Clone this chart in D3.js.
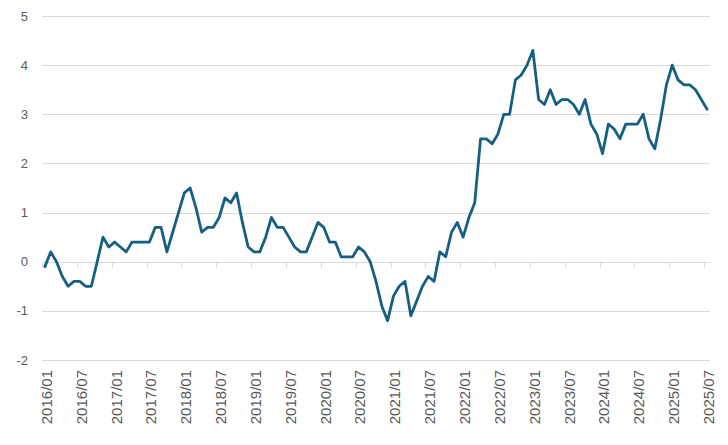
<!DOCTYPE html>
<html>
<head>
<meta charset="utf-8">
<script src="https://cdn.jsdelivr.net/npm/d3@7"></script>
<style>
  html, body { margin: 0; padding: 0; background: #fff; }
  svg { display: block; }
  text { font-family: "Liberation Sans", Arial, sans-serif; fill: #595959; }
</style>
</head>
<body>
<div id="chart"></div>
<script>
// Monthly values, 2016/01 .. 2025/07
const values = [
  -0.1, 0.2, 0.0, -0.3, -0.5, -0.4, -0.4, -0.5, -0.5, 0.0, 0.5, 0.3,
  0.4, 0.3, 0.2, 0.4, 0.4, 0.4, 0.4, 0.7, 0.7, 0.2, 0.6, 1.0,
  1.4, 1.5, 1.1, 0.6, 0.7, 0.7, 0.9, 1.3, 1.2, 1.4, 0.8, 0.3,
  0.2, 0.2, 0.5, 0.9, 0.7, 0.7, 0.5, 0.3, 0.2, 0.2, 0.5, 0.8,
  0.7, 0.4, 0.4, 0.1, 0.1, 0.1, 0.3, 0.2, 0.0, -0.4, -0.9, -1.2,
  -0.7, -0.5, -0.4, -1.1, -0.8, -0.5, -0.3, -0.4, 0.2, 0.1, 0.6, 0.8,
  0.5, 0.9, 1.2, 2.5, 2.5, 2.4, 2.6, 3.0, 3.0, 3.7, 3.8, 4.0,
  4.3, 3.3, 3.2, 3.5, 3.2, 3.3, 3.3, 3.2, 3.0, 3.3, 2.8, 2.6,
  2.2, 2.8, 2.7, 2.5, 2.8, 2.8, 2.8, 3.0, 2.5, 2.3, 2.9, 3.6,
  4.0, 3.7, 3.6, 3.6, 3.5, 3.3, 3.1
];
const startYear = 2016;
const categories = values.map((_, i) => {
  const y = startYear + Math.floor(i / 12);
  const m = (i % 12) + 1;
  return y + "/" + String(m).padStart(2, "0");
});
const yTicks = [-2, -1, 0, 1, 2, 3, 4, 5];
const labelEvery = 6;

const W = 728, H = 445;
const margin = { left: 42, right: 18, top: 16, bottom: 85 };

const svg = d3.select("#chart").append("svg").attr("width", W).attr("height", H);

const x = d3.scaleBand().domain(categories).range([margin.left, W - margin.right]).paddingInner(0).paddingOuter(0);
const y = d3.scaleLinear().domain([-2, 5]).range([H - margin.bottom, margin.top]);

// Gridlines
svg.append("g").selectAll("line").data(yTicks).join("line")
  .attr("x1", margin.left).attr("x2", W - margin.right)
  .attr("y1", d => Math.round(y(d)) + 0.5).attr("y2", d => Math.round(y(d)) + 0.5)
  .attr("stroke", "#d9d9d9").attr("stroke-width", 1);

// Y labels
svg.append("g").selectAll("text").data(yTicks).join("text")
  .attr("x", 28).attr("y", d => y(d)).attr("dy", "0.35em")
  .attr("text-anchor", "end").attr("font-size", 13)
  .text(d => d);

// Category axis at zero with tick marks between categories
const y0 = Math.round(y(0)) + 0.5;
const tickIdx = d3.range(0, categories.length + 1, labelEvery);
svg.append("g").selectAll("line").data(tickIdx).join("line")
  .attr("x1", i => Math.round(margin.left + i * x.step()) + 0.5)
  .attr("x2", i => Math.round(margin.left + i * x.step()) + 0.5)
  .attr("y1", y0).attr("y2", y0 + 5)
  .attr("stroke", "#d9d9d9").attr("stroke-width", 1);

// X labels (rotated)
const labelCats = categories.filter((_, i) => i % labelEvery === 0);
svg.append("g").selectAll("text").data(labelCats).join("text")
  .attr("transform", d => `translate(${x(d) + x.bandwidth() / 2 + 1.5},370) rotate(-90)`)
  .attr("text-anchor", "end").attr("dy", "0.36em")
  .attr("font-size", 15)
  .text(d => d);

// Line
const line = d3.line()
  .x((d, i) => x(categories[i]) + x.bandwidth() / 2)
  .y(d => y(d));
svg.append("path").datum(values)
  .attr("d", line)
  .attr("fill", "none")
  .attr("stroke", "#156082")
  .attr("stroke-width", 2.8)
  .attr("stroke-linejoin", "round")
  .attr("stroke-linecap", "round");
</script>
</body>
</html>
